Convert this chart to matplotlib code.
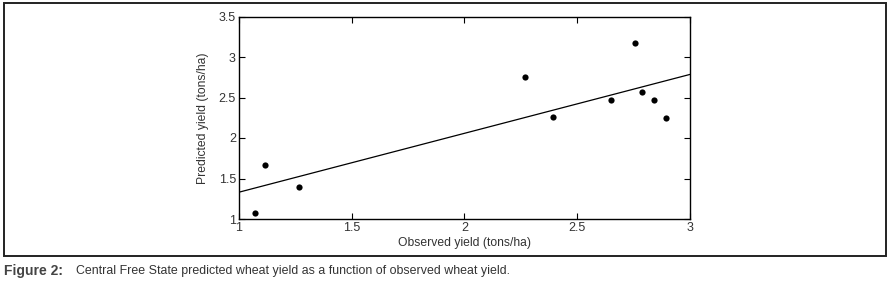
import matplotlib
matplotlib.use("Agg")
import matplotlib.pyplot as plt
from matplotlib.patches import Rectangle

# Data
observed = [1.071, 1.115, 1.267, 2.270, 2.393, 2.649, 2.755, 2.786, 2.842, 2.894]
predicted = [1.078, 1.667, 1.395, 2.753, 2.263, 2.465, 3.169, 2.564, 2.465, 2.251]
fit_x = [1.0, 3.0]
fit_y = [1.33, 2.785]
x_ticks = [1, 1.5, 2, 2.5, 3]
x_tick_labels = ["1", "1.5", "2", "2.5", "3"]
y_ticks = [1, 1.5, 2, 2.5, 3, 3.5]
y_tick_labels = ["1", "1.5", "2", "2.5", "3", "3.5"]

FONT = ["Liberation Sans Narrow", "Liberation Sans", "DejaVu Sans"]
plt.rcParams["font.family"] = FONT

W, H = 893, 286
fig = plt.figure(figsize=(W / 100, H / 100), dpi=100)

# outer frame
fig.patches.append(Rectangle((3.5 / W, 1 - 255.5 / H), (885.5 - 3.5) / W, (255.5 - 2.5) / H,
                             transform=fig.transFigure, fill=False, edgecolor="#222222",
                             linewidth=1.4))

ax = fig.add_axes([238.7 / W, 1 - 219 / H, (690 - 238.7) / W, (219 - 16.5) / H])
ax.plot(fit_x, fit_y, color="black", linewidth=0.9)
ax.scatter(observed, predicted, s=20, color="black", zorder=3, linewidths=0)

ax.set_xlim(1, 3)
ax.set_ylim(1, 3.5)
ax.set_xticks(x_ticks)
ax.set_xticklabels(x_tick_labels)
ax.set_yticks(y_ticks)
ax.set_yticklabels(y_tick_labels)
ax.tick_params(direction="in", top=True, right=True, length=4, width=0.8,
               labelsize=9, pad=2, colors="black")
ax.tick_params(axis="both", labelcolor="#333333")
for s in ax.spines.values():
    s.set_linewidth(1.0)

ax.set_xlabel("Observed yield (tons/ha)", fontsize=8.7, color="#333333", labelpad=2)
ax.set_ylabel("Predicted yield (tons/ha)", fontsize=8.7, color="#333333", labelpad=7)

fig.text(4 / W, 1 - 271 / H, "Figure 2:", fontsize=10, fontweight="bold",
         color="#444444", va="center", ha="left")
fig.text(76 / W, 1 - 271 / H,
         "Central Free State predicted wheat yield as a function of observed wheat yield.",
         fontsize=8.9, color="#333333", va="center", ha="left")

fig.savefig("out.png", dpi=100)
